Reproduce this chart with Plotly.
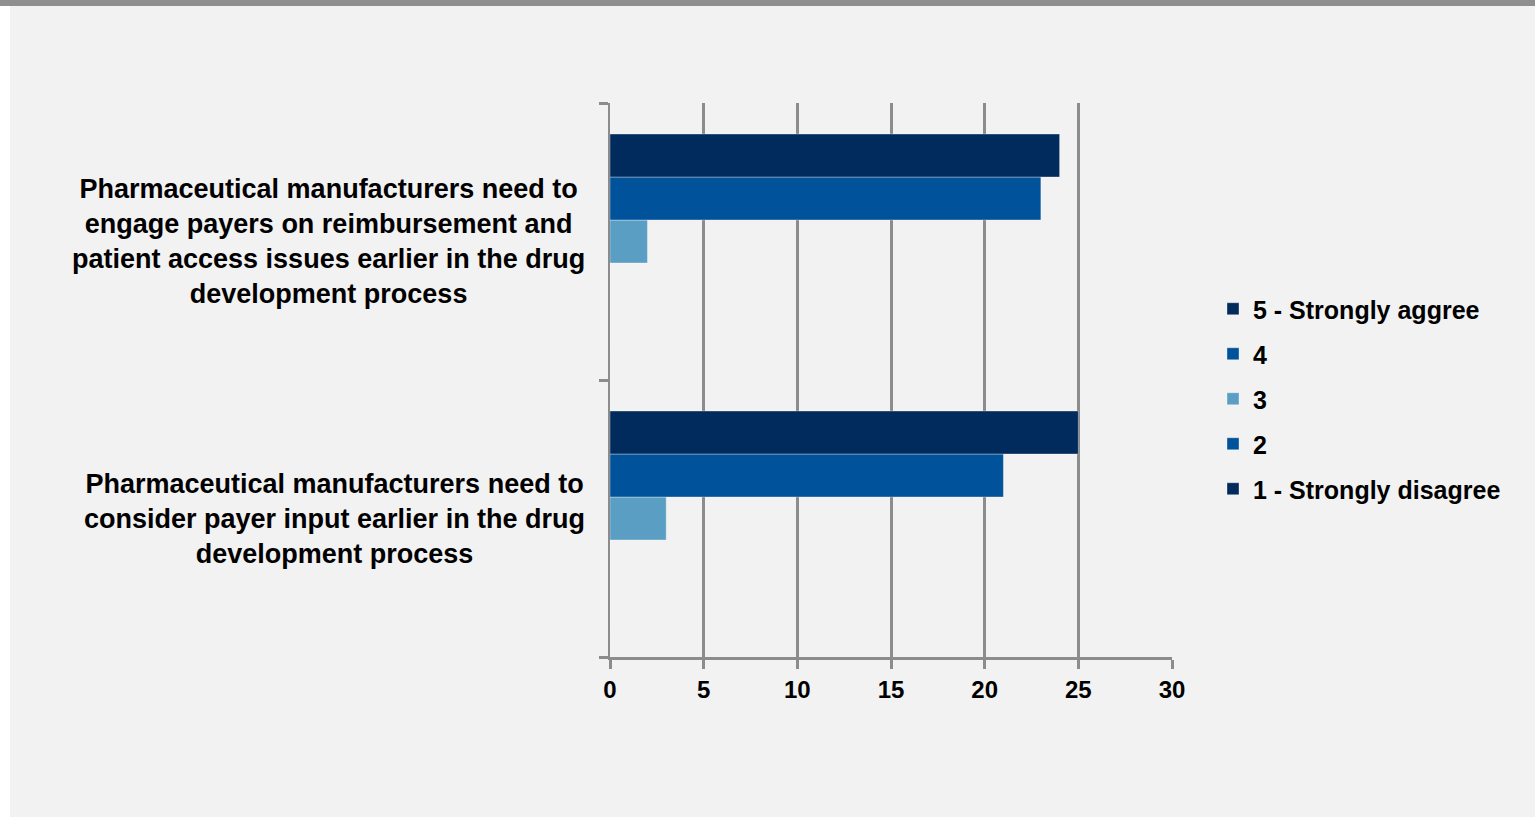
import plotly.graph_objects as go

# Survey statements (listed bottom-to-top as drawn on the category axis)
statements = [
    "Pharmaceutical manufacturers need to<br>consider payer input earlier in the drug<br>development process",
    "Pharmaceutical manufacturers need to<br>engage payers on reimbursement and<br>patient access issues earlier in the drug<br>development process",
]

# Response counts per rating, same order as statements
rating_names = ["1 - Strongly disagree", "2", "3", "4", "5 - Strongly aggree"]
rating_1 = [0, 0]
rating_2 = [0, 0]
rating_3 = [3, 2]
rating_4 = [21, 23]
rating_5 = [25, 24]
rating_values = [rating_1, rating_2, rating_3, rating_4, rating_5]
rating_colors = ["#002b5c", "#00529b", "#5b9ec4", "#00529b", "#002b5c"]

x_ticks = [0, 5, 10, 15, 20, 25, 30]

FONT = "Liberation Sans, Arial, sans-serif"
GRID = "#8c8c8c"

fig = go.Figure()
for i, (name, vals, col) in enumerate(zip(rating_names, rating_values, rating_colors)):
    fig.add_trace(go.Bar(
        y=statements, x=vals, name=name, orientation="h",
        marker=dict(color=col, line=dict(color="rgba(255,255,255,0.35)", width=1)),
        legendgroup=name, legendrank=len(rating_names) - i,
    ))

# Wrapped, centred statement labels placed beside the category axis
for s in statements:
    fig.add_annotation(
        x=-0.041, xref="paper", y=s, yref="y",
        text=s, showarrow=False, xanchor="right", yanchor="middle",
        align="center",
        font=dict(family=FONT, size=27, color="#000000", weight=700),
    )

W, H = 1535, 817
L, R, T, B = 610, 363, 103, 160
pw, ph = W - L - R, H - T - B

def px_x(x):
    return (x - L) / pw

def px_y(y):
    return 1 - (y - T) / ph

# Light grey panel, white left margin strip and the textured top rule
fig.add_shape(type="rect", xref="paper", yref="paper", layer="below",
              x0=px_x(0), x1=px_x(10), y0=px_y(H), y1=px_y(0),
              fillcolor="#ffffff", line=dict(width=0))
fig.add_shape(type="rect", xref="paper", yref="paper", layer="below",
              x0=px_x(0), x1=px_x(W), y0=px_y(6), y1=px_y(0),
              fillcolor="#8f8f8f", line=dict(width=0))

fig.update_layout(
    width=W, height=H,
    margin=dict(l=L, r=R, t=T, b=B, pad=0, autoexpand=False),
    paper_bgcolor="#f2f2f2", plot_bgcolor="#f2f2f2",
    barmode="group", bargap=0.224, bargroupgap=0,
    font=dict(family=FONT, size=26, color="#000000", weight=700),
    showlegend=True,
    legend=dict(
        x=px_x(1213), xanchor="left", y=px_y(399), yanchor="middle",
        traceorder="grouped", tracegroupgap=9.5,
        bgcolor="rgba(0,0,0,0)",
        font=dict(family=FONT, size=25, color="#000000", weight=700),
        itemwidth=30,
    ),
    xaxis=dict(
        range=[0, 30], tickvals=x_ticks, ticktext=[str(v) for v in x_ticks],
        showgrid=True, gridcolor=GRID, gridwidth=3,
        showline=True, linecolor=GRID, linewidth=3,
        ticks="outside", ticklen=9, tickwidth=3, tickcolor=GRID,
        zeroline=False, ticklabelstandoff=0,
        tickfont=dict(family=FONT, size=24, color="#000000", weight=700),
        fixedrange=True,
    ),
    yaxis=dict(
        categoryorder="array", categoryarray=statements,
        showticklabels=False, tickson="boundaries",
        ticks="outside", ticklen=9, tickwidth=3, tickcolor=GRID,
        showgrid=False, showline=True, linecolor=GRID, linewidth=2,
        fixedrange=True,
    ),
)

fig.write_html("out.html")
